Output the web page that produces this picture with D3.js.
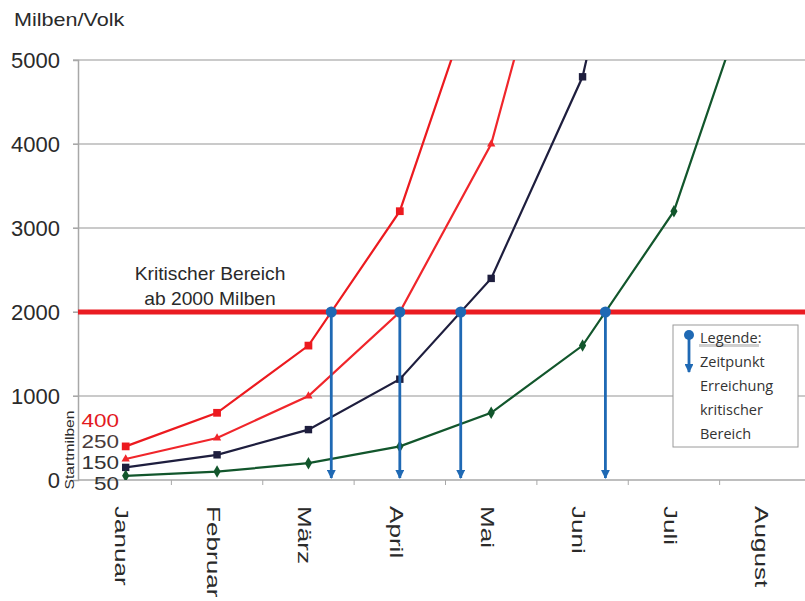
<!DOCTYPE html>
<html>
<head>
<meta charset="utf-8">
<script src="https://cdn.jsdelivr.net/npm/d3@7"></script>
<style>
  body { margin: 0; background: #fff; }
  text { font-family: "Liberation Sans", Arial, sans-serif; }
</style>
</head>
<body>
<div id="chart"></div>
<script>
// months on the category axis
var months = ["Januar", "Februar", "März", "April", "Mai", "Juni", "Juli", "August"];
var yTicks = [0, 1000, 2000, 3000, 4000, 5000];
var critical = 2000;

// mites per colony, doubling each month, one series per start value
var start400 = [400, 800, 1600, 3200, 6400];
var start250 = [250, 500, 1000, 2000, 4000, 8000];
var start150 = [150, 300, 600, 1200, 2400, 4800, 9600];
var start50 = [50, 100, 200, 400, 800, 1600, 3200, 6400];
var startLabels = ["400", "250", "150", "50"];
var legendLines = ["Legende:", "Zeitpunkt", "Erreichung", "kritischer", "Bereich"];

var series = [
  {values: start400, color: "#ec1a1f", symbol: d3.symbolSquare, size: 60, label: "#e3191e"},
  {values: start250, color: "#f0262b", symbol: d3.symbolTriangle, size: 30, label: "#4a3b3b"},
  {values: start150, color: "#1e1e3e", symbol: d3.symbolSquare, size: 55, label: "#333"},
  {values: start50, color: "#12562c", symbol: d3.symbolDiamond, size: 45, label: "#333"}
];

var W = 805, H = 601;
var plotLeft = 78, plotTop = 60, plotBottom = 480;

var svg = d3.select("#chart").append("svg")
    .attr("width", W)
    .attr("height", H);

var x = d3.scaleBand().domain(months).range([80, 811]);
var y = d3.scaleLinear().domain([0, 5000]).range([plotBottom, plotTop]);
function cx(i) { return x(months[i]) + x.bandwidth() / 2; }

var defs = svg.append("defs");
defs.append("clipPath").attr("id", "plot")
  .append("rect")
    .attr("x", plotLeft).attr("y", plotTop)
    .attr("width", W - plotLeft).attr("height", plotBottom - plotTop);
defs.append("marker")
    .attr("id", "arrow")
    .attr("viewBox", "0 0 10 10")
    .attr("refX", 9).attr("refY", 5)
    .attr("markerWidth", 3.2).attr("markerHeight", 3.2)
    .attr("orient", "auto")
  .append("path")
    .attr("d", "M0,0L10,5L0,10Z")
    .attr("fill", "#1f69b4");

// grid lines
svg.append("g")
  .selectAll("line")
  .data(yTicks.filter(function (d) { return d > 0; }))
  .enter().append("line")
    .attr("x1", plotLeft - 5).attr("x2", W)
    .attr("y1", function (d) { return y(d); })
    .attr("y2", function (d) { return y(d); })
    .attr("stroke", "#b8b8b8")
    .attr("stroke-width", 1.4);

// y axis
var yAxis = svg.append("g")
    .attr("transform", "translate(" + plotLeft + ",0)")
    .call(d3.axisLeft(y).tickValues(yTicks).tickFormat(d3.format("d"))
      .tickSize(5).tickPadding(13));
yAxis.select(".domain").attr("stroke", "#a8a8a8").attr("stroke-width", 1.5);
yAxis.selectAll(".tick line").attr("stroke", "#a8a8a8");
yAxis.selectAll(".tick text")
    .attr("dy", "0.36em")
    .style("font-size", "22px")
    .style("font-family", "'Liberation Sans', Arial, sans-serif")
    .attr("fill", "#2a2a2a");

// x axis with ticks between categories
var xAxis = svg.append("g")
    .attr("transform", "translate(0," + plotBottom + ")");
xAxis.append("line")
    .attr("x1", plotLeft).attr("x2", W)
    .attr("stroke", "#a8a8a8").attr("stroke-width", 1.5);
xAxis.selectAll(".tk")
  .data(months.slice(1))
  .enter().append("line")
    .attr("class", "tk")
    .attr("x1", function (d) { return x(d); })
    .attr("x2", function (d) { return x(d); })
    .attr("y1", 0).attr("y2", 5)
    .attr("stroke", "#a8a8a8");
xAxis.selectAll(".lbl")
  .data(months)
  .enter().append("text")
    .attr("class", "lbl")
    .attr("transform", function (d) {
      return "translate(" + (x(d) + x.bandwidth() / 2 - 4) + ",26) rotate(90) scale(1.45,1)";
    })
    .attr("dy", "0.35em")
    .style("font-size", "18px")
    .attr("fill", "#2a2a2a")
    .text(function (d) { return d; });

// title
svg.append("text")
    .attr("transform", "translate(14,26) scale(1.2,1)")
    .style("font-size", "18px")
    .attr("fill", "#2a2a2a")
    .text("Milben/Volk");

// critical line
svg.append("line")
    .attr("x1", plotLeft).attr("x2", W)
    .attr("y1", y(critical)).attr("y2", y(critical))
    .attr("stroke", "#ea1c22")
    .attr("stroke-width", 5);

var note = svg.append("text")
    .attr("text-anchor", "middle")
    .attr("transform", "translate(210,0) scale(1.1,1)")
    .style("font-size", "17.5px")
    .attr("fill", "#2a2a2a");
note.append("tspan").attr("x", 0).attr("y", 280).text("Kritischer Bereich");
note.append("tspan").attr("x", 0).attr("y", 305).text("ab 2000 Milben");

// series lines and markers
var line = d3.line()
    .x(function (d, i) { return cx(i); })
    .y(function (d) { return y(d); });

var plot = svg.append("g").attr("clip-path", "url(#plot)");

series.forEach(function (s) {
  plot.append("path")
      .datum(s.values)
      .attr("fill", "none")
      .attr("stroke", s.color)
      .attr("stroke-width", 2.2)
      .attr("d", line);
  plot.selectAll(null)
    .data(s.values.map(function (v, i) { return {v: v, i: i}; })
      .filter(function (d) { return d.v <= 5000; }))
    .enter().append("path")
      .attr("transform", function (d) { return "translate(" + cx(d.i) + "," + y(d.v) + ")"; })
      .attr("d", d3.symbol().type(s.symbol).size(s.size))
      .attr("fill", s.color);
});

// where each series crosses the critical value
var crossings = series.map(function (s) {
  var v = s.values;
  for (var i = 1; i < v.length; i++) {
    if (v[i] >= critical) {
      var f = (critical - v[i - 1]) / (v[i] - v[i - 1]);
      return cx(i - 1) + f * (cx(i) - cx(i - 1));
    }
  }
});

var arrows = svg.append("g");
arrows.selectAll("line")
  .data(crossings)
  .enter().append("line")
    .attr("x1", function (d) { return d; })
    .attr("x2", function (d) { return d; })
    .attr("y1", y(critical))
    .attr("y2", plotBottom - 2)
    .attr("stroke", "#1f69b4")
    .attr("stroke-width", 2.8)
    .attr("marker-end", "url(#arrow)");
arrows.selectAll("circle")
  .data(crossings)
  .enter().append("circle")
    .attr("cx", function (d) { return d; })
    .attr("cy", y(critical))
    .attr("r", 5.5)
    .attr("fill", "#1f69b4");

// start values at the left edge
svg.append("g")
  .selectAll("text")
  .data(startLabels)
  .enter().append("text")
    .attr("transform", function (d, i) {
      return "translate(119," + (427 + i * 21) + ") scale(1.25,1)";
    })
    .attr("text-anchor", "end")
    .style("font-size", "18px")
    .attr("fill", function (d, i) { return series[i].label; })
    .text(function (d) { return d; });

svg.append("text")
    .attr("transform", "translate(74,450) rotate(-90) scale(1.3,1)")
    .attr("text-anchor", "middle")
    .style("font-size", "12px")
    .attr("fill", "#2a2a2a")
    .text("Startmilben");

// legend box
var lg = svg.append("g").attr("transform", "translate(673,325)");
lg.append("rect")
    .attr("width", 125).attr("height", 122)
    .attr("fill", "#fff")
    .attr("stroke", "#9a9a9a");
lg.append("rect")
    .attr("x", 26).attr("y", 19)
    .attr("width", 60).attr("height", 3)
    .attr("fill", "#cfcfcf");
lg.append("line")
    .attr("x1", 16).attr("x2", 16)
    .attr("y1", 10).attr("y2", 47)
    .attr("stroke", "#1f69b4")
    .attr("stroke-width", 2.8)
    .attr("marker-end", "url(#arrow)");
lg.append("circle")
    .attr("cx", 16).attr("cy", 10).attr("r", 5)
    .attr("fill", "#1f69b4");
lg.selectAll(".lt")
  .data(legendLines)
  .enter().append("text")
    .attr("class", "lt")
    .attr("x", 27)
    .attr("y", function (d, i) { return 18 + i * 24; })
    .style("font-family", "'Open Sans', sans-serif")
    .style("font-size", "14.5px")
    .attr("fill", "#333")
    .text(function (d) { return d; });
</script>
</body>
</html>
